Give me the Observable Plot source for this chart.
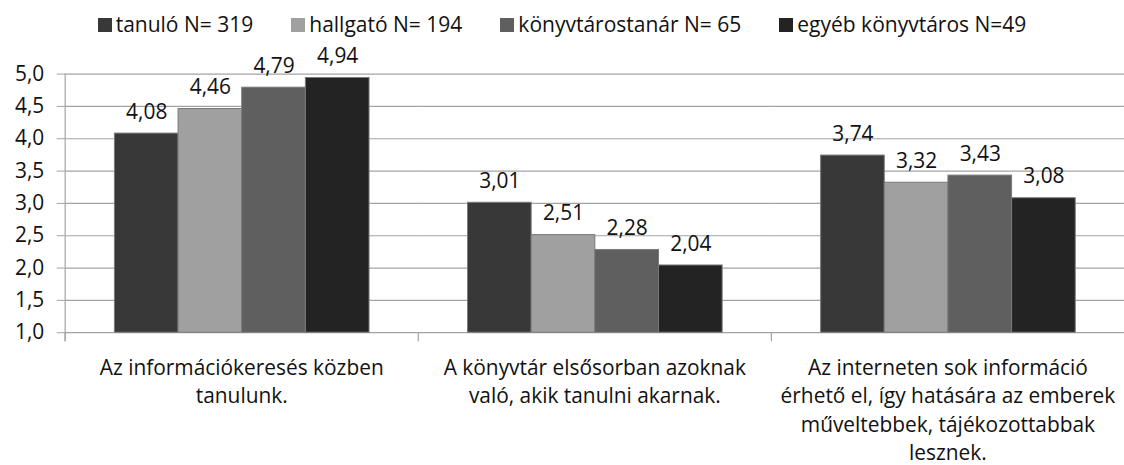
<!DOCTYPE html>
<html>
<head>
<meta charset="utf-8">
<script src="https://cdn.jsdelivr.net/npm/d3@7"></script>
<script src="https://cdn.jsdelivr.net/npm/@observablehq/plot@0.6"></script>
<style>
  html, body { margin: 0; padding: 0; background: #fff; overflow: hidden; }
  body { width: 1124px; height: 465px; position: relative; font-family: "Open Sans", sans-serif; }
  #legend { position: absolute; top: 0; left: 0; width: 1124px; height: 48px; display: flex; justify-content: center; align-items: center; gap: 38px; font-size: 21px; color: #111; z-index: 2; }
  #legend .item { display: flex; align-items: center; }
  #legend .sw { width: 14px; height: 14px; margin-right: 4px; margin-top: 2px; }
  #chart { position: absolute; top: 0; left: 0; }
</style>
</head>
<body>
<div id="legend"></div>
<div id="chart"></div>
<script>
// ---- data ----
const categories = [
  "Az információkeresés közben tanulunk.",
  "A könyvtár elsősorban azoknak való, akik tanulni akarnak.",
  "Az interneten sok információ érhető el, így hatására az emberek műveltebbek, tájékozottabbak lesznek."
];
const categoryLines = [
  ["Az információkeresés közben", "tanulunk."],
  ["A könyvtár elsősorban azoknak", "való, akik tanulni akarnak."],
  ["Az interneten sok információ", "érhető el, így hatására az emberek", "műveltebbek, tájékozottabbak", "lesznek."]
];
const series = ["tanuló N= 319", "hallgató N= 194", "könyvtárostanár N= 65", "egyéb könyvtáros N=49"];
const tanulo = [4.08, 3.01, 3.74];
const hallgato = [4.46, 2.51, 3.32];
const konyvtarostanar = [4.79, 2.28, 3.43];
const egyeb = [4.94, 2.04, 3.08];
const yTicks = [1.0, 1.5, 2.0, 2.5, 3.0, 3.5, 4.0, 4.5, 5.0];
const colors = ["#383838", "#a0a0a0", "#5f5f5f", "#232323"];

// ---- build table ----
const seriesValues = [tanulo, hallgato, konyvtarostanar, egyeb];
const data = [];
categories.forEach((c, i) => {
  series.forEach((s, j) => data.push({category: c, series: s, value: seriesValues[j][i]}));
});
const fmt = v => v.toFixed(2).replace(".", ",");

// ---- legend ----
const legend = document.getElementById("legend");
series.forEach((s, j) => {
  const it = document.createElement("div");
  it.className = "item";
  const sw = document.createElement("span");
  sw.className = "sw";
  sw.style.background = colors[j];
  const tx = document.createElement("span");
  tx.textContent = s;
  it.appendChild(sw); it.appendChild(tx);
  legend.appendChild(it);
});

// ---- chart ----
const gridColor = "#a3a3a3";
const fs = 21;
const chart = Plot.plot({
  width: 1130,
  height: 465,
  marginTop: 74,
  marginBottom: 131,
  marginLeft: 65,
  marginRight: 0,
  style: {fontFamily: "'Open Sans', sans-serif", fontSize: fs + "px", color: "#111", background: "transparent", overflow: "visible"},
  fx: {domain: categories, padding: 0, label: null},
  x: {domain: series, paddingInner: 0, paddingOuter: 0.74, axis: null},
  y: {domain: [1, 5], label: null},
  color: {domain: series, range: colors},
  marks: [
    Plot.gridY({ticks: yTicks, stroke: gridColor, strokeOpacity: 1, strokeWidth: 1.2}),
    Plot.frame({anchor: "left", facetAnchor: "left", stroke: gridColor, strokeWidth: 1.2, insetBottom: -8}),
    Plot.frame({anchor: "left", stroke: gridColor, strokeWidth: 1.2, insetTop: 260, insetBottom: -8}),
    Plot.axisY({ticks: yTicks, tickFormat: d => d.toFixed(1).replace(".", ","), tickSize: 8, tickPadding: 13, stroke: gridColor, fontSize: fs, fill: "#111"}),
    Plot.axisFx({anchor: "bottom", tickSize: 0, tickPadding: 22, fontSize: fs, fill: "#111", lineHeight: 1.36,
      tickFormat: d => categoryLines[categories.indexOf(d)].join("\n")}),
    Plot.barY(data, {fx: "category", x: "series", y1: 1, y2: "value", fill: "series", stroke: "#7a7a7a", strokeWidth: 1}),
    Plot.text(data, {fx: "category", x: "series", y: "value", text: d => fmt(d.value), lineAnchor: "bottom", dy: -15, fontSize: fs, fill: "#111"})
  ]
});
document.getElementById("chart").appendChild(chart);
</script>
</body>
</html>
